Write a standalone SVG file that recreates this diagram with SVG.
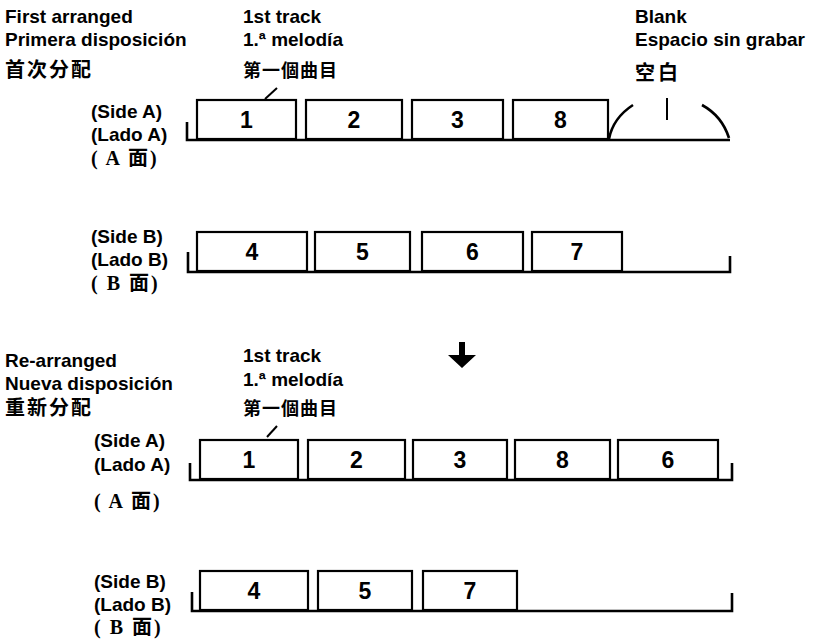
<svg xmlns="http://www.w3.org/2000/svg" width="827" height="644" viewBox="0 0 827 644">
<style>
.lbl{font-family:"Liberation Sans","Noto Sans CJK SC",sans-serif;font-weight:bold;font-size:19px;fill:#000}
.cjk{font-family:"Noto Sans CJK SC",sans-serif;font-weight:bold;font-size:20px;fill:#000;letter-spacing:2px}
.cjk2{font-family:"Noto Sans CJK SC",sans-serif;font-weight:bold;font-size:18px;fill:#000;letter-spacing:1px}
.side{font-family:"Liberation Sans",sans-serif;font-weight:bold;font-size:19px;fill:#000}
.sidecjk{font-family:"Liberation Serif","Noto Sans CJK SC",serif;font-weight:bold;font-size:20px;fill:#000;letter-spacing:2px}
.box{fill:#fff;stroke:#000;stroke-width:2.2}
.num{font-family:"Liberation Sans",sans-serif;font-weight:bold;font-size:23px;text-anchor:middle;fill:#000}
.base{fill:none;stroke:#000;stroke-width:2.6}
.thin{fill:none;stroke:#000;stroke-width:2}
</style>
<rect width="827" height="644" fill="#fff"/>

<g id="labels-top">
<text class="lbl" x="5" y="23">First arranged</text>
<text class="lbl" x="5" y="46">Primera disposición</text>
<text class="cjk" x="5" y="77">首次分配</text>
<text class="lbl" x="243" y="23">1st track</text>
<text class="lbl" x="243" y="46">1.ª melodía</text>
<text class="cjk2" x="243" y="77">第一個曲目</text>
<text class="lbl" x="635" y="23">Blank</text>
<text class="lbl" x="635" y="46">Espacio sin grabar</text>
<text class="cjk" x="635" y="80" style="letter-spacing:3px">空白</text>
<text class="side" x="91" y="118">(Side A)</text>
<text class="side" x="91" y="141">(Lado A)</text>
<text class="sidecjk" x="91" y="165">( A 面)</text>
<text class="side" x="91" y="243">(Side B)</text>
<text class="side" x="91" y="266">(Lado B)</text>
<text class="sidecjk" x="91" y="290">( B 面)</text>
</g>

<g id="labels-bottom">
<text class="lbl" x="5" y="367">Re-arranged</text>
<text class="lbl" x="5" y="390">Nueva disposición</text>
<text class="cjk" x="5" y="415">重新分配</text>
<text class="lbl" x="243" y="362">1st track</text>
<text class="lbl" x="243" y="386">1.ª melodía</text>
<text class="cjk2" x="243" y="415">第一個曲目</text>
<text class="side" x="94" y="447">(Side A)</text>
<text class="side" x="94" y="471">(Lado A)</text>
<text class="sidecjk" x="94" y="508">( A 面)</text>
<text class="side" x="94" y="588">(Side B)</text>
<text class="side" x="94" y="611">(Lado B)</text>
<text class="sidecjk" x="94" y="634">( B 面)</text>
</g>

<g id="connectors">
<path class="base" d="M187,122 V140 H730"/>
<path class="thin" d="M265,99 L277,88"/>
<path class="base" d="M633,105 Q613,118 609,139"/>
<path class="base" d="M702,105 Q722,116 729,138"/>
<path class="thin" d="M667,98 V120"/>
<path class="base" d="M188,252 V272 H730 V256"/>
<polygon points="459,342 465,342 465,355 476,355 462,368 448,355 459,355" fill="#000"/>
<path class="base" d="M190,463 V480 H732 V463"/>
<path class="thin" d="M267,437 L277,426"/>
<path class="base" d="M192,592 V611 H732 V593"/>
</g>

<g id="t1A1"><rect class="box" x="197" y="100" width="99" height="39"/><text class="num" x="246.5" y="128">1</text></g>
<g id="t1A2"><rect class="box" x="306" y="100" width="96" height="39"/><text class="num" x="354" y="128">2</text></g>
<g id="t1A3"><rect class="box" x="412" y="100" width="91" height="39"/><text class="num" x="457.5" y="128">3</text></g>
<g id="t1A8"><rect class="box" x="513" y="100" width="95" height="39"/><text class="num" x="560.5" y="128">8</text></g>

<g id="t1B4"><rect class="box" x="197" y="232" width="110" height="39"/><text class="num" x="252" y="260">4</text></g>
<g id="t1B5"><rect class="box" x="315" y="232" width="95" height="39"/><text class="num" x="362.5" y="260">5</text></g>
<g id="t1B6"><rect class="box" x="422" y="232" width="101" height="39"/><text class="num" x="472.5" y="260">6</text></g>
<g id="t1B7"><rect class="box" x="532" y="232" width="90" height="39"/><text class="num" x="577" y="260">7</text></g>

<g id="t2A1"><rect class="box" x="200" y="440" width="98" height="39"/><text class="num" x="249" y="468">1</text></g>
<g id="t2A2"><rect class="box" x="308" y="440" width="97" height="39"/><text class="num" x="356.5" y="468">2</text></g>
<g id="t2A3"><rect class="box" x="413" y="440" width="94" height="39"/><text class="num" x="460" y="468">3</text></g>
<g id="t2A8"><rect class="box" x="515" y="440" width="95" height="39"/><text class="num" x="562.5" y="468">8</text></g>
<g id="t2A6"><rect class="box" x="618" y="440" width="100" height="39"/><text class="num" x="668" y="468">6</text></g>

<g id="t2B4"><rect class="box" x="200" y="571" width="108" height="39"/><text class="num" x="254" y="599">4</text></g>
<g id="t2B5"><rect class="box" x="318" y="571" width="94" height="39"/><text class="num" x="365" y="599">5</text></g>
<g id="t2B7"><rect class="box" x="423" y="571" width="94" height="39"/><text class="num" x="470" y="599">7</text></g>
</svg>
